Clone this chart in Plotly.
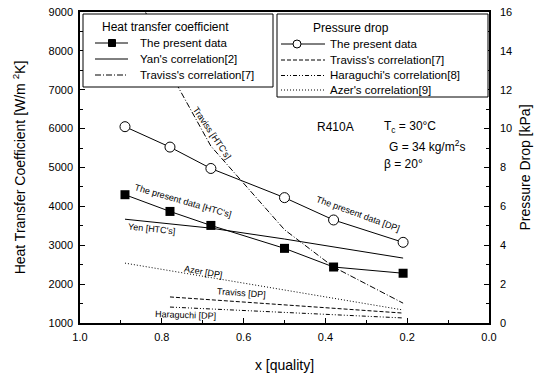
import plotly.graph_objects as go

# ---- data ----
x_q = [0.89, 0.78, 0.68, 0.50, 0.38, 0.21]
htc_present = [4300, 3870, 3510, 2920, 2440, 2280]
htc_yan = [3670, 3550, 3440, 3160, 2960, 2670]
htc_traviss = [10300, 7450, 5550, 3400, 2440, 1510]

dp_present = [10.1, 9.05, 7.95, 6.45, 5.3, 4.15]
dp_azer = [3.08, 2.69, 2.33, 1.69, 1.27, 0.67]
x_q2 = [0.78, 0.68, 0.50, 0.38, 0.21]
dp_traviss = [1.34, 1.19, 0.93, 0.76, 0.51]
dp_haraguchi = [0.82, 0.72, 0.55, 0.43, 0.26]

x_ticks = [1.0, 0.8, 0.6, 0.4, 0.2, 0.0]
x_ticklabels = ["1.0", "0.8", "0.6", "0.4", "0.2", "0.0"]

legend_htc_title = "Heat transfer coefficient"
legend_htc_names = ["The present data", "Yan's correlation[2]", "Traviss's correlation[7]"]
legend_dp_title = "Pressure drop"
legend_dp_names = ["The present data", "Traviss's correlation[7]",
                   "Haraguchi's correlation[8]", "Azer's correlation[9]"]

FONT = "Liberation Sans, Arial, sans-serif"
W, H = 540, 378
ML, MR, MT, MB = 80, 51, 12, 55
PW, PH = W - ML - MR, H - MT - MB

DASH_TRAVISS_HTC = "6px,2px,1px,2px"
DASH_TRAVISS_DP = "4px,2px"
DASH_HARAGUCHI = "4px,2px,1px,2px,1px,2px"
DASH_AZER = "1px,2px"

fig = go.Figure()

# HTC traces
fig.add_trace(go.Scatter(x=x_q, y=htc_present, mode="lines+markers", name=legend_htc_names[0],
                         line=dict(color="black", width=1),
                         marker=dict(symbol="square", size=9, color="black")))
fig.add_trace(go.Scatter(x=x_q, y=htc_yan, mode="lines", name=legend_htc_names[1],
                         line=dict(color="black", width=1)))
fig.add_trace(go.Scatter(x=x_q, y=htc_traviss, mode="lines", name=legend_htc_names[2],
                         line=dict(color="black", width=1, dash=DASH_TRAVISS_HTC)))

# DP traces
fig.add_trace(go.Scatter(x=x_q, y=dp_present, mode="lines+markers", name=legend_dp_names[0],
                         yaxis="y2", line=dict(color="black", width=1),
                         marker=dict(symbol="circle", size=10, color="white",
                                     line=dict(width=1, color="black"))))
fig.add_trace(go.Scatter(x=x_q2, y=dp_traviss, mode="lines", name=legend_dp_names[1],
                         yaxis="y2", line=dict(color="black", width=1, dash=DASH_TRAVISS_DP)))
fig.add_trace(go.Scatter(x=x_q2, y=dp_haraguchi, mode="lines", name=legend_dp_names[2],
                         yaxis="y2", line=dict(color="black", width=1, dash=DASH_HARAGUCHI)))
fig.add_trace(go.Scatter(x=x_q, y=dp_azer, mode="lines", name=legend_dp_names[3],
                         yaxis="y2", line=dict(color="black", width=1, dash=DASH_AZER)))

ax_common = dict(showline=True, linecolor="black", linewidth=1.5, ticks="inside",
                 ticklen=5, tickcolor="black", showgrid=False, zeroline=False,
                 automargin=False,
                 tickfont=dict(family=FONT, size=11, color="black"))

fig.update_layout(
    width=W, height=H,
    margin=dict(l=ML, r=MR, t=MT, b=MB),
    paper_bgcolor="white", plot_bgcolor="white",
    font=dict(family=FONT, color="black"),
    showlegend=False,
    xaxis=dict(range=[1.0, 0.0], tickvals=x_ticks, ticktext=x_ticklabels, mirror=True,
               ticklabelstandoff=3,
               minor=dict(dtick=0.1, ticks="inside", ticklen=3, tickcolor="black"),
               title=dict(text="x [quality]", font=dict(size=14, family=FONT), standoff=18),
               **ax_common),
    yaxis=dict(range=[1000, 9000], dtick=1000, ticklabelstandoff=3,
               minor=dict(dtick=500, ticks="inside", ticklen=3, tickcolor="black"),
               title=dict(text="Heat Transfer Coefficient [W/m <sup>2</sup>K]",
                          font=dict(size=14, family=FONT), standoff=20),
               **ax_common),
    yaxis2=dict(range=[0, 16], dtick=2, overlaying="y", side="right", ticklabelstandoff=7,
                minor=dict(dtick=1, ticks="inside", ticklen=3, tickcolor="black"),
                title=dict(text="Pressure Drop [kPa]", font=dict(size=14, family=FONT), standoff=9),
                **ax_common),
)

# ---- hand-drawn legends (paper coordinates derived from pixel layout) ----
def px(xp):
    return (xp - ML) / PW

def py(yp):
    return (H - MB - yp) / PH

def legend_box(x0, y0, x1, y1):
    fig.add_shape(type="rect", xref="paper", yref="paper", x0=px(x0), x1=px(x1),
                  y0=py(y1), y1=py(y0), line=dict(color="black", width=1),
                  fillcolor="white", layer="above")

def legend_line(x0, x1, y, dash="solid"):
    fig.add_shape(type="line", xref="paper", yref="paper", x0=px(x0), x1=px(x1),
                  y0=py(y), y1=py(y), line=dict(color="black", width=1, dash=dash),
                  layer="above")

def legend_marker(kind, x, y, r):
    fig.add_shape(type=kind, xref="paper", yref="paper", xsizemode="pixel",
                  ysizemode="pixel", xanchor=px(x), yanchor=py(y), x0=-r, x1=r, y0=-r, y1=r,
                  line=dict(color="black", width=1),
                  fillcolor="black" if kind == "rect" else "white", layer="above")

def legend_text(text, x, y, size=11.5):
    fig.add_annotation(text=text, xref="paper", yref="paper", x=px(x), y=py(y),
                       xanchor="left", yanchor="middle", showarrow=False,
                       font=dict(family=FONT, size=size, color="black"))

# legend 1: heat transfer coefficient
legend_box(83, 14, 273, 87)
legend_text(legend_htc_title, 100, 27, size=12)
rows1 = [43, 59, 75]
dashes1 = ["solid", "solid", DASH_TRAVISS_HTC]
for name, yy, dsh in zip(legend_htc_names, rows1, dashes1):
    legend_line(95, 128, yy, dsh)
    legend_text(name, 138, yy)
legend_marker("rect", 112, rows1[0], 3.5)

# legend 2: pressure drop
legend_box(277, 14, 488, 97)
legend_text(legend_dp_title, 311, 28, size=12)
rows2 = [44, 60, 75.5, 90]
dashes2 = ["solid", DASH_TRAVISS_DP, DASH_HARAGUCHI, DASH_AZER]
for name, yy, dsh in zip(legend_dp_names, rows2, dashes2):
    legend_line(281, 325, yy, dsh)
    legend_text(name, 328, yy)
legend_marker("circle", 297, rows2[0], 4)

# ---- curve labels ----
def note(text, x, y, angle=0, size=9, yref="y", xanchor="center"):
    fig.add_annotation(text=text, x=x, y=y, xref="x", yref=yref, showarrow=False,
                       textangle=angle, xanchor=xanchor,
                       font=dict(family=FONT, size=size, color="black"))

note("Traviss [HTC's]", 0.677, 5900, angle=56)
note("The present data [HTC's]", 0.748, 4140, angle=16)
note("Yen [HTC's]", 0.824, 3420, angle=6)
note("The present data [DP]", 0.32, 5.62, angle=20, yref="y2")
note("Azer [DP]", 0.697, 2.6, angle=10, yref="y2")
note("Traviss [DP]", 0.606, 1.54, angle=4, yref="y2")
note("Haraguchi [DP]", 0.743, 0.42, angle=2, yref="y2")

note("R410A", 0.4254, 6040, size=12, xanchor="left")
note("T<sub>c</sub> = 30°C", 0.2616, 6040, size=12, xanchor="left")
note("G = 34 kg/m<sup>2</sup>s", 0.2494, 5550, size=12, xanchor="left")
note("β = 20°", 0.2616, 5090, size=12, xanchor="left")

fig.write_html("out.html")
